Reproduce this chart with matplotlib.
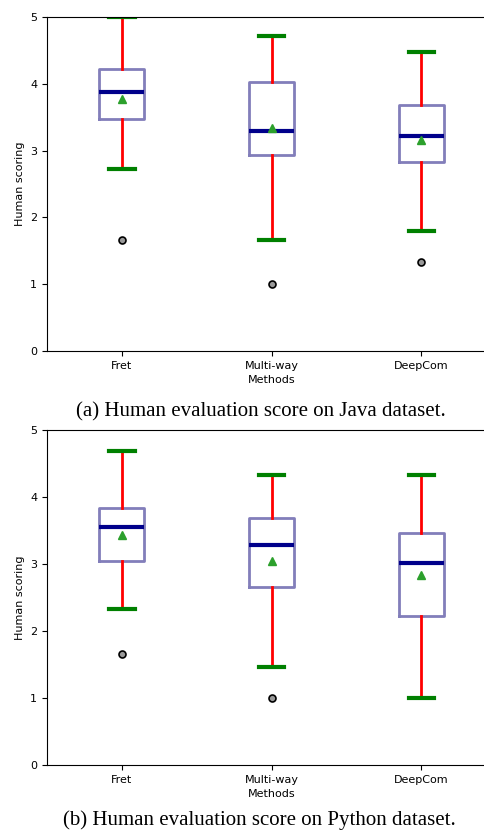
import matplotlib
matplotlib.use('Agg')
import matplotlib.pyplot as plt

methods = ['Fret', 'Multi-way', 'DeepCom']

# Java dataset
java_whislo = [2.73, 1.66, 1.79]
java_q1 = [3.48, 2.94, 2.83]
java_med = [3.88, 3.29, 3.22]
java_q3 = [4.22, 4.03, 3.69]
java_whishi = [5.0, 4.71, 4.47]
java_mean = [3.78, 3.34, 3.16]
java_fliers = [[1.66], [1.0], [1.33]]

# Python dataset
py_whislo = [2.33, 1.47, 1.0]
py_q1 = [3.04, 2.66, 2.23]
py_med = [3.55, 3.29, 3.01]
py_q3 = [3.84, 3.68, 3.47]
py_whishi = [4.68, 4.33, 4.33]
py_mean = [3.44, 3.05, 2.84]
py_fliers = [[1.66], [1.0], []]

captions = ['(a) Human evaluation score on Java dataset.',
            '(b) Human evaluation score on Python dataset.']


def make_stats(lo, q1, med, q3, hi, mean, fl):
    return [dict(label=m, whislo=lo[i], q1=q1[i], med=med[i], q3=q3[i],
                 whishi=hi[i], mean=mean[i], fliers=fl[i])
            for i, m in enumerate(methods)]


fig = plt.figure(figsize=(4.85, 8.32), dpi=100)
ax_top = fig.add_axes([0.097, 0.578, 0.926, 0.4016])
ax_bot = fig.add_axes([0.097, 0.0802, 0.926, 0.4030])

datasets = [
    make_stats(java_whislo, java_q1, java_med, java_q3, java_whishi, java_mean, java_fliers),
    make_stats(py_whislo, py_q1, py_med, py_q3, py_whishi, py_mean, py_fliers),
]

for ax, stats in zip([ax_top, ax_bot], datasets):
    ax.bxp(stats, showmeans=True, widths=0.3, capwidths=0.17,
           boxprops=dict(color='#7570b3', linewidth=2, alpha=0.9),
           medianprops=dict(color='darkblue', linewidth=3),
           whiskerprops=dict(color='red', linewidth=2),
           capprops=dict(color='green', linewidth=3),
           meanprops=dict(marker='^', markerfacecolor='tab:green',
                          markeredgecolor='tab:green', markersize=6),
           flierprops=dict(marker='o', markerfacecolor='#999999',
                           markeredgecolor='black', markersize=5,
                           markeredgewidth=1.2))
    ax.set_ylim(0, 5)
    ax.set_xlim(0.5, 3.5)
    ax.set_yticks([0, 1, 2, 3, 4, 5])
    ax.spines['right'].set_visible(False)
    ax.tick_params(labelsize=8, length=3.5)
    ax.set_xlabel('Methods', fontsize=8, labelpad=3)
    ax.set_ylabel('Human scoring', fontsize=8)

fig.text(0.537, 1 - 416 / 832, captions[0], ha='center', va='baseline',
         family='Liberation Serif', fontsize=15)
fig.text(0.534, 1 - 825 / 832, captions[1], ha='center', va='baseline',
         family='Liberation Serif', fontsize=15)

fig.savefig('out.png', dpi=100)
